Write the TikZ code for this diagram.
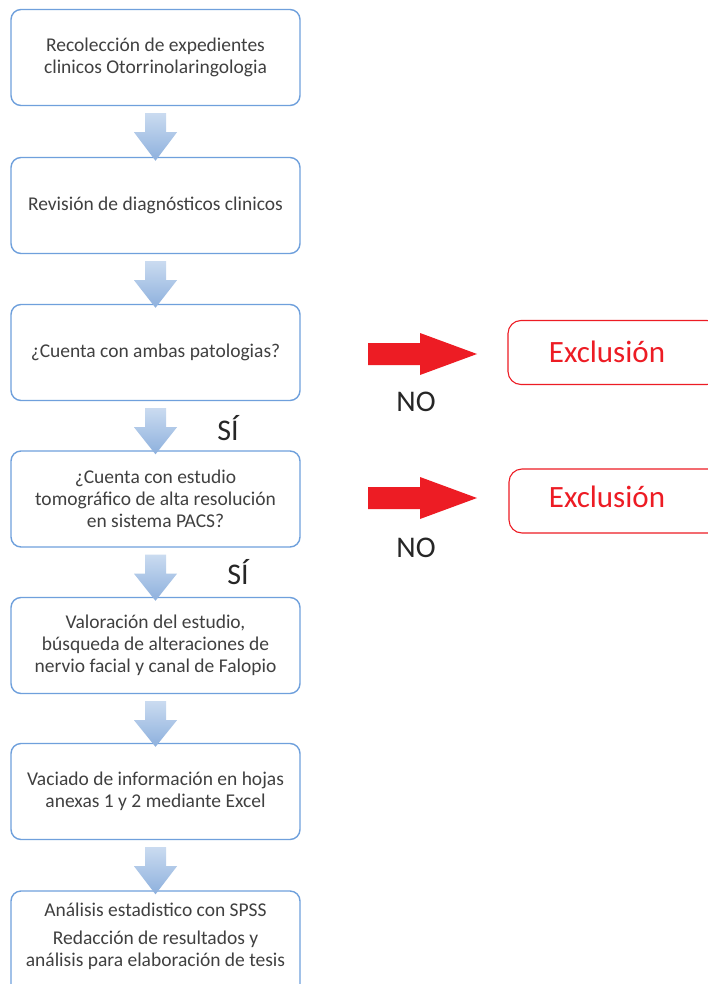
\documentclass[tikz,border=0pt]{standalone}
\usepackage{fontspec}
\setmainfont{Carlito}
\usetikzlibrary{calc}
\definecolor{boxblue}{HTML}{6FA0DC}
\definecolor{txtgray}{HTML}{404040}
\definecolor{arrtop}{HTML}{CADBF0}
\definecolor{arrbot}{HTML}{8DB0DD}
\definecolor{exred}{HTML}{ED1C24}
\tikzset{
  x=1pt, y=1pt,
  stepbox/.style={draw=boxblue, line width=1.4pt, rounded corners=10pt, fill=white,
    minimum width=289pt, minimum height=96pt, inner sep=0pt,
    text=txtgray, align=center, font=\fontsize{19.5}{22}\selectfont},
  exbox/.style={draw=exred, line width=1.1pt, rounded corners=13pt, fill=white,
    minimum width=212pt, minimum height=64pt, inner sep=0pt},
  extext/.style={text=exred, font=\fontsize{31}{34}\selectfont, inner sep=0pt},
  lbl/.style={text=black!85, font=\fontsize{30}{32}\selectfont, inner sep=0pt},
  bluearrow/.style={top color=arrtop, bottom color=arrbot, draw=none},
  redarrow/.style={fill=exred, draw=none}
}
\newcommand{\downarrowblk}[2]{%
  \shade[bluearrow] ($(#1.south)+(-10.5,-7)$) -- ($(#1.south)+(10.5,-7)$) -- ($(#1.south)+(10.5,-26)$)
    -- ($(#1.south)+(21.5,-26)$) -- ($(#2.north)+(0,-4)$) -- ($(#1.south)+(-21.5,-26)$)
    -- ($(#1.south)+(-10.5,-26)$) -- cycle;}
\newcommand{\rightarrowblk}[1]{%
  \fill[redarrow] ($(#1)+(0,11)$) -- ($(#1)+(52,11)$) -- ($(#1)+(52,21)$) -- ($(#1)+(109,0)$)
    -- ($(#1)+(52,-21)$) -- ($(#1)+(52,-11)$) -- ($(#1)+(0,-11)$) -- cycle;}
\begin{document}
\begin{tikzpicture}
\useasboundingbox (0,0) rectangle (708,-984);
\clip (0,0) rectangle (708,-984);
\fill[white] (0,0) rectangle (708,-984);

\node[stepbox] (b1) at (155.5,-57.5) {Recolección de expedientes\\clinicos Otorrinolaringologia};
\node[stepbox] (b2) at (155.5,-205.5) {Revisión de diagnósticos clinicos};
\node[stepbox] (b3) at (155.5,-352.5) {¿Cuenta con ambas patologias?};
\node[stepbox] (b4) at (155.5,-499) {¿Cuenta con estudio\\tomográfico de alta resolución\\en sistema PACS?};
\node[stepbox] (b5) at (155.5,-645.5) {Valoración del estudio,\\búsqueda de alteraciones de\\nervio facial y canal de Falopio};
\node[stepbox] (b6) at (155.5,-791.5) {Vaciado de información en hojas\\anexas 1 y 2 mediante Excel};
\node[stepbox, minimum height=120pt] (b7) at (155.5,-951) {};
\node[text=txtgray, align=center, font=\fontsize{19.5}{22}\selectfont, inner sep=0pt] (t7) at (155.5,-936)
  {Análisis estadistico con SPSS\\[6pt]Redacción de resultados y\\análisis para elaboración de tesis};

\downarrowblk{b1}{b2}
\downarrowblk{b2}{b3}
\downarrowblk{b3}{b4}
\downarrowblk{b4}{b5}
\downarrowblk{b5}{b6}
\downarrowblk{b6}{b7}

\node[lbl] (si1) at (228,-428) {SÍ};
\node[lbl] (si2) at (238,-572) {SÍ};

\coordinate (r1) at (368,-354);
\coordinate (r2) at (368,-498);
\rightarrowblk{r1}
\rightarrowblk{r2}
\node[lbl] (no1) at (416,-402) {NO};
\node[lbl] (no2) at (416,-548) {NO};

\node[exbox] (e1) at (614,-352.5) {};
\node[extext] (e1t) at (607,-352) {Exclusión};
\node[exbox] (e2) at (615,-501) {};
\node[extext] (e2t) at (607,-497) {Exclusión};
\end{tikzpicture}
\end{document}
